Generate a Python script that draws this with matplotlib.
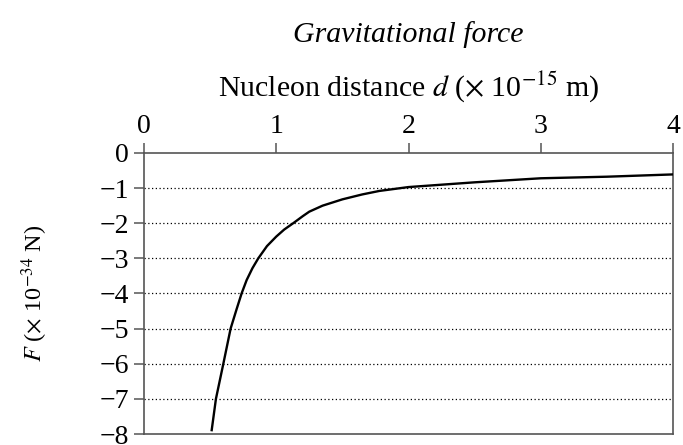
import matplotlib.pyplot as plt

# distance between nucleons (x 1e-15 m) and force (x 1e-34 N)
d = [0.512, 0.544, 0.60, 0.655, 0.70, 0.738, 0.776, 0.82, 0.864, 0.93, 1.0,
     1.06, 1.128, 1.2, 1.25, 1.35, 1.5, 1.65, 1.78, 2.0, 2.5, 3.0, 3.5, 4.0]
F = [-7.89, -7.0, -6.0, -5.0, -4.45, -4.0, -3.62, -3.28, -3.0, -2.65, -2.38,
     -2.18, -2.0, -1.8, -1.67, -1.5, -1.32, -1.18, -1.08, -0.97, -0.835,
     -0.72, -0.675, -0.61]

x_ticks = [0, 1, 2, 3, 4]
y_ticks = [0, -1, -2, -3, -4, -5, -6, -7, -8]
grid_levels = [-1, -2, -3, -4, -5, -6, -7]

plt.rcParams['font.family'] = 'serif'
plt.rcParams['font.serif'] = ['Liberation Serif', 'DejaVu Serif']
plt.rcParams['mathtext.fontset'] = 'stix'

fig = plt.figure(figsize=(6.83, 4.45), dpi=100)
ax = fig.add_axes([0.2108, 0.0247, 0.7746, 0.6315])

# dotted reference lines
for g in grid_levels:
    ax.axhline(g, color='black', lw=0.9, ls=(0, (1, 2)), zorder=1)

ax.plot(d, F, color='black', lw=1.7, zorder=3)

ax.set_xlim(0, 4)
ax.set_ylim(-8, 0)
ax.set_xticks(x_ticks)
ax.set_yticks(y_ticks)
ax.xaxis.set_ticks_position('top')
ax.xaxis.set_label_position('top')
ax.tick_params(axis='both', labelsize=20, direction='out', length=7,
               width=1.1, color='#555555')
ax.tick_params(axis='x', pad=3)
ax.tick_params(axis='y', pad=4)

for s in ax.spines.values():
    s.set_color('#555555')
    s.set_linewidth(1.2)

ax.set_xlabel(r'Nucleon distance $d$ ($\times$ 10$^{-15}$ m)', fontsize=21.5)
ax.xaxis.set_label_coords(0.5, 1.205)
ax.set_ylabel(r'$F$ ($\times$ 10$^{-34}$ N)', fontsize=17.5)
ax.yaxis.set_label_coords(-0.178, 0.5)

fig.text(0.597, 0.905, 'Gravitational force', fontsize=21.5, style='italic',
         ha='center', va='baseline')

fig.savefig('out.png', dpi=100)
